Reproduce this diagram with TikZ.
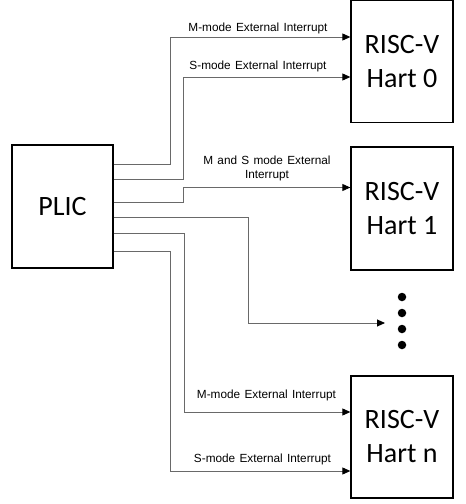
\documentclass[tikz,border=0pt]{standalone}
\usepackage{fontspec}
\setmainfont{Carlito}
\newfontfamily\labelfont[WordSpace=1.3]{Liberation Sans}
\usetikzlibrary{arrows.meta}
\definecolor{wiregray}{RGB}{105,105,105}
\begin{document}
\begin{tikzpicture}[x=1pt,y=-1pt,
  blockbox/.style={draw=black,line width=1.3pt,inner sep=0pt,font=\fontsize{28}{34}\selectfont,align=center},
  wire/.style={draw=wiregray,line width=0.9pt},
  arr/.style={wire,-{Triangle[length=8pt,width=7pt,fill=black,color=black]}},
  lbl/.style={font=\labelfont\fontsize{11.8}{14}\selectfont,inner sep=0pt,align=center},
  dotc/.style={circle,fill=black,inner sep=0pt,minimum size=8.5pt}]
\useasboundingbox (0,0) rectangle (466,504);
% blocks
\node[blockbox,minimum width=101pt,minimum height=123pt] (plic) at (62.5,206.5) {PLIC};
\node[blockbox,minimum width=102pt,minimum height=122pt] (h0) at (402,61.5) {RISC-V\\Hart 0};
\node[blockbox,minimum width=102pt,minimum height=123pt] (h1) at (402,208.5) {RISC-V\\Hart 1};
\node[blockbox,minimum width=102pt,minimum height=122pt] (hn) at (402,437) {RISC-V\\Hart n};
% dots
\node[dotc] (d1) at (402,297) {};
\node[dotc] (d2) at (402,313) {};
\node[dotc] (d3) at (402,329) {};
\node[dotc] (d4) at (402,345) {};
\coordinate (dtip) at (385,323);
% connectors
\draw[arr] (plic.east |- 0,164) -| (170,37) -- (h0.west |- 0,37);
\draw[arr] (plic.east |- 0,179) -| (183,77) -- (h0.west |- 0,77);
\draw[arr] (plic.east |- 0,202) -| (183,187.5) -- (h1.west |- 0,187.5);
\draw[arr] (plic.east |- 0,217) -| (248,323) -- (dtip);
\draw[arr] (plic.east |- 0,233) -| (184,412) -- (hn.west |- 0,412);
\draw[arr] (plic.east |- 0,251) -| (170,471) -- (hn.west |- 0,471);
% labels
\node[lbl] (l1) at (258,28.3) {M-mode External Interrupt};
\node[lbl] (l2) at (258,66.7) {S-mode External Interrupt};
\node[lbl] (l3) at (267,168) {M and S mode External\\Interrupt};
\node[lbl] (l4) at (266.5,395.7) {M-mode External Interrupt};
\node[lbl] (l5) at (262.5,459) {S-mode External Interrupt};
\end{tikzpicture}
\end{document}
